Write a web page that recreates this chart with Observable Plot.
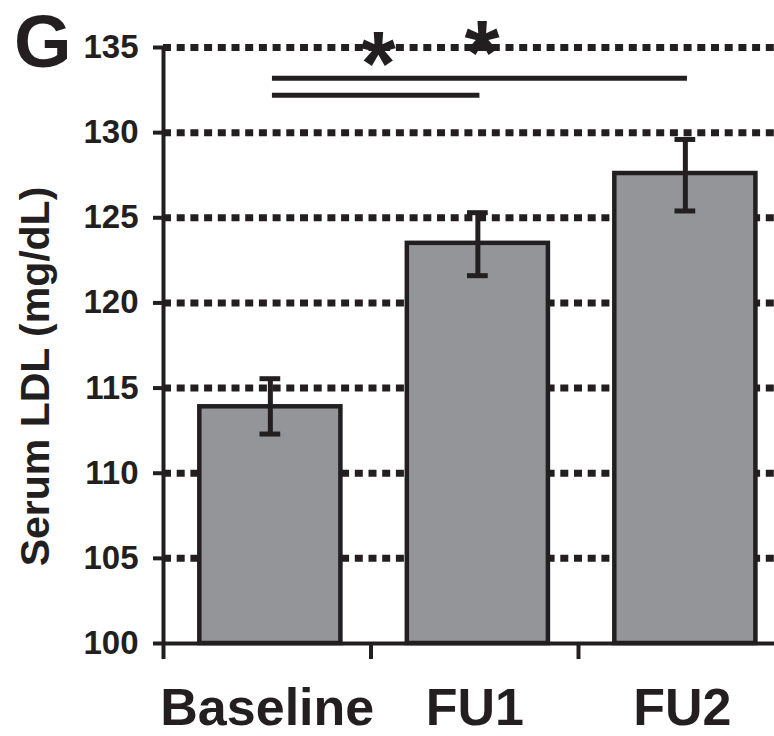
<!DOCTYPE html>
<html>
<head>
<meta charset="utf-8">
<script src="https://cdn.jsdelivr.net/npm/d3@7"></script>
<script src="https://cdn.jsdelivr.net/npm/@observablehq/plot@0.6"></script>
<style>
  html, body { margin: 0; padding: 0; background: #fff; overflow: hidden; }
  #wrap { position: relative; width: 774px; height: 736px; }
  #panel { position: absolute; left: 14px; top: 5px; font: bold 74px "Liberation Sans", Arial, sans-serif; line-height: 1; color: #231f20; }
</style>
</head>
<body>
<div id="wrap"><div id="panel">G</div></div>
<script>
const categories = ["Baseline", "FU1", "FU2"];
const means = [113.9, 123.5, 127.6];
const errLow = [112.3, 121.6, 125.4];
const errHigh = [115.55, 125.3, 129.6];
const yTicks = [100, 105, 110, 115, 120, 125, 130, 135];
const gridTicks = [105, 110, 115, 120, 125, 130, 135];
const sigPairs = [["Baseline", "FU2"], ["Baseline", "FU1"]];
const sigLevels = [133.2, 132.2];
const starLevels = [135.65, 135.0];
const yTitle = "Serum LDL (mg/dL)";

const ink = "#231f20";
const font = "'Liberation Sans', Arial, sans-serif";
const idx = c => categories.indexOf(c) + 0.5;

const bars = categories.map((c, i) => ({c, i, mean: means[i], lo: errLow[i], hi: errHigh[i]}));
const sig = sigPairs.map((p, k) => ({a: idx(p[0]), b: idx(p[1]), y: sigLevels[k], star: starLevels[k]}));

const plot = Plot.plot({
  width: 774,
  height: 736,
  marginLeft: 163,
  marginRight: -11.5,
  marginTop: 47,
  marginBottom: 93,
  style: {fontFamily: font, color: ink, background: "transparent", overflow: "visible"},
  x: {domain: [0, 3], axis: null},
  y: {domain: [100, 135], axis: null},
  marks: [
    Plot.ruleY(gridTicks, {x1: 0, x2: 3, stroke: ink, strokeWidth: 7, strokeDasharray: "8,5.7"}),
    Plot.rectY(bars, {x1: d => d.i + 0.515 - 0.34, x2: d => d.i + 0.515 + 0.34, y1: 100, y2: "mean", fill: "#939598", stroke: ink, strokeWidth: 4.5}),
    Plot.ruleX(bars, {x: d => d.i + 0.515, y1: "lo", y2: "hi", stroke: ink, strokeWidth: 5}),
    Plot.ruleY(bars, {y: "lo", x1: d => d.i + 0.465, x2: d => d.i + 0.565, stroke: ink, strokeWidth: 5}),
    Plot.ruleY(bars, {y: "hi", x1: d => d.i + 0.465, x2: d => d.i + 0.565, stroke: ink, strokeWidth: 5}),
    Plot.ruleX([0], {y1: 100, y2: 135, stroke: ink, strokeWidth: 4}),
    Plot.ruleY([100], {x1: 0, x2: 3, stroke: ink, strokeWidth: 4}),
    Plot.axisY({ticks: yTicks, tickSize: 10, tickPadding: 15, strokeWidth: 4, stroke: ink, fill: ink,
      fontSize: 33, fontWeight: "bold", fontFamily: font, label: null}),
    Plot.axisX({ticks: [0, 1, 2, 3], tickSize: 16, strokeWidth: 4, stroke: ink, tickFormat: () => "", label: null}),
    Plot.axisX({ticks: categories.map((c, i) => i + 0.5), tickSize: 0, tickPadding: 45, fill: ink,
      tickFormat: v => categories[Math.round(v - 0.5)], fontSize: 52, fontWeight: "bold", fontFamily: font, label: null}),
    Plot.ruleY(sig, {y: "y", x1: d => d.a + 0.025, x2: d => d.b + 0.025, stroke: ink, strokeWidth: 5}),
    Plot.text(sig, {x: d => (d.a + d.b) / 2 + 0.035, y: "star", text: () => "*", fontSize: 90, fontWeight: "bold",
      fontFamily: font, fill: ink, textAnchor: "middle", lineAnchor: "middle", dy: 19}),
    Plot.text([yTitle], {frameAnchor: "left", rotate: -90, dx: -115, dy: 31, textAnchor: "middle", lineAnchor: "bottom",
      fontSize: 41, fontWeight: "bold", fontFamily: font, fill: ink})
  ]
});
document.getElementById("wrap").appendChild(plot);
plot.style.position = "absolute";
plot.style.left = "0";
plot.style.top = "0";
document.getElementById("wrap").appendChild(document.getElementById("panel"));
</script>
</body>
</html>
